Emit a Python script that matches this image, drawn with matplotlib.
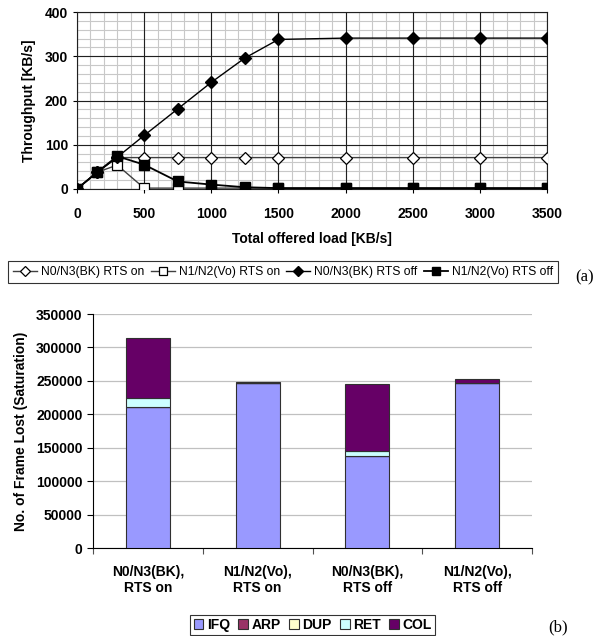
import matplotlib
matplotlib.use("Agg")
import matplotlib.pyplot as plt
import numpy as np
from matplotlib.ticker import MultipleLocator

plt.rcParams['font.family'] = ['Liberation Sans', 'DejaVu Sans']

# ---------------- data (a) ----------------
load = [0, 150, 300, 500, 750, 1000, 1250, 1500, 2000, 2500, 3000, 3500]
bk_rts_on = [0, 38, 71, 71, 71, 71, 71, 71, 71, 71, 71, 71]
vo_rts_on = [0, 38, 54, 2, 2, 2, 2, 2, 2, 2, 2, 2]
bk_rts_off = [0, 38, 72, 121, 181, 241, 296, 338, 341, 341, 341, 341]
vo_rts_off = [0, 38, 74, 55, 17, 10, 4, 2, 2, 2, 2, 2]
series_names = ["N0/N3(BK) RTS on", "N1/N2(Vo) RTS on",
                "N0/N3(BK) RTS off", "N1/N2(Vo) RTS off"]

# ---------------- data (b) ----------------
categories = ["N0/N3(BK),\nRTS on", "N1/N2(Vo),\nRTS on",
              "N0/N3(BK),\nRTS off", "N1/N2(Vo),\nRTS off"]
stack_names = ["IFQ", "ARP", "DUP", "RET", "COL"]
ifq = [211000, 247500, 137000, 247500]
arp = [0, 0, 0, 0]
dup = [0, 0, 0, 0]
ret = [14000, 0, 8000, 0]
col = [89000, 1500, 100000, 5500]
stack_colors = ["#9999FF", "#993366", "#FFFFCC", "#CCFFFF", "#660066"]

W, H = 597, 636
fig = plt.figure(figsize=(W / 100, H / 100), dpi=100)

def fx(px):
    return px / W

def fy(py):
    return 1 - py / H

# ---------------- top chart ----------------
XMAX, YMAX = 3500, 400
ax1 = fig.add_axes([fx(77), fy(189), fx(547) - fx(77), fy(12) - fy(189)])
ax1.set_xlim(0, XMAX)
ax1.set_ylim(0, YMAX)
ax1.xaxis.set_major_locator(MultipleLocator(500))
ax1.yaxis.set_major_locator(MultipleLocator(100))
# minor grid (drawn underneath the major grid)
ax1.vlines(np.arange(0, XMAX + 1, 100), 0, YMAX, colors='#c8c8c8', lw=0.8, zorder=0.2)
ax1.hlines(np.arange(0, YMAX + 1, 20), 0, XMAX, colors='#c8c8c8', lw=0.8, zorder=0.2)
ax1.grid(which='major', color='#202020', lw=0.8)
ax1.set_axisbelow(True)
for s in ax1.spines.values():
    s.set_color('#202020')
    s.set_linewidth(0.8)
ax1.tick_params(which='major', length=3, width=0.8, labelsize=10)
for lab in ax1.get_xticklabels() + ax1.get_yticklabels():
    lab.set_fontweight('bold')
ax1.tick_params(axis='x', pad=10)

h1, = ax1.plot(load, bk_rts_on, color='#404040', lw=1, marker='D', ms=6,
               mfc='white', mec='black', mew=0.9, label=series_names[0], zorder=3)
h2, = ax1.plot(load, vo_rts_on, color='#404040', lw=1, marker='s', ms=7,
               mfc='white', mec='black', mew=0.9, label=series_names[1], zorder=3)
h3, = ax1.plot(load, bk_rts_off, color='black', lw=1, marker='D', ms=6,
               mfc='black', mec='black', label=series_names[2], zorder=4)
h4, = ax1.plot(load, vo_rts_off, color='black', lw=1.3, marker='s', ms=7,
               mfc='black', mec='black', label=series_names[3], zorder=4)

ax1.set_ylabel("Throughput [KB/s]", fontsize=10, fontweight='bold', labelpad=6)
ax1.set_xlabel("Total offered load [KB/s]", fontsize=10, fontweight='bold', labelpad=8)

leg1 = fig.legend(handles=[h1, h2, h3, h4], loc='center',
                  bbox_to_anchor=((fx(6) + fx(560)) / 2, fy(272)),
                  ncol=4, fontsize=8.7, frameon=True, fancybox=False,
                  edgecolor='black', handlelength=2.0, handletextpad=0.3,
                  columnspacing=0.55, borderpad=0.45, markerscale=0.8)
leg1.get_frame().set_linewidth(0.8)

fig.text(fx(585), fy(277), "(a)", family=['Liberation Serif', 'DejaVu Serif'],
         fontsize=12, ha='center', va='center')

# ---------------- bottom chart ----------------
ax2 = fig.add_axes([fx(93), fy(548), fx(532) - fx(93), fy(314) - fy(548)])
x = np.arange(len(categories))
bottoms = np.zeros(len(categories))
handles = []
for name, vals, c in zip(stack_names, [ifq, arp, dup, ret, col], stack_colors):
    b = ax2.bar(x, vals, width=0.4, bottom=bottoms, color=c,
                edgecolor='#303030', linewidth=0.8, label=name, zorder=3)
    handles.append(b)
    bottoms = bottoms + np.array(vals)

ax2.set_xlim(-0.5, len(categories) - 0.5)
ax2.set_ylim(0, 350000)
ax2.yaxis.set_major_locator(MultipleLocator(50000))
ax2.grid(axis='y', color='#c0c0c0', lw=0.9, zorder=0)
ax2.set_axisbelow(True)
ax2.spines['top'].set_visible(False)
ax2.spines['right'].set_visible(False)
ax2.spines['left'].set_color('black')
ax2.spines['bottom'].set_color('black')
ax2.spines['left'].set_linewidth(0.8)
ax2.spines['bottom'].set_linewidth(0.8)
ax2.set_xticks(x)
ax2.set_xticklabels(categories, fontsize=10, fontweight='bold', linespacing=1.2)
ax2.tick_params(axis='x', length=0, pad=12)
ax2.set_xticks(np.arange(-0.5, len(categories)), minor=True)
ax2.tick_params(axis='x', which='minor', length=4, width=0.8, color='#505050')
ax2.tick_params(axis='y', length=4, width=0.8, labelsize=10)
for lab in ax2.get_yticklabels():
    lab.set_fontweight('bold')
ax2.set_ylabel("No. of Frame Lost (Saturation)", fontsize=10, fontweight='bold', labelpad=6)

leg2 = fig.legend(handles=handles, loc='center',
                  bbox_to_anchor=((fx(93) + fx(532)) / 2, fy(625)), ncol=5,
                  prop={'weight': 'bold', 'size': 10}, frameon=True,
                  fancybox=False, edgecolor='black', handlelength=0.7,
                  handleheight=0.7, handletextpad=0.25, columnspacing=0.6,
                  borderpad=0.25)
leg2.get_frame().set_linewidth(0.8)

fig.text(fx(558), fy(627), "(b)", family=['Liberation Serif', 'DejaVu Serif'],
         fontsize=12, ha='center', va='center')

fig.savefig("out.png", dpi=100)
